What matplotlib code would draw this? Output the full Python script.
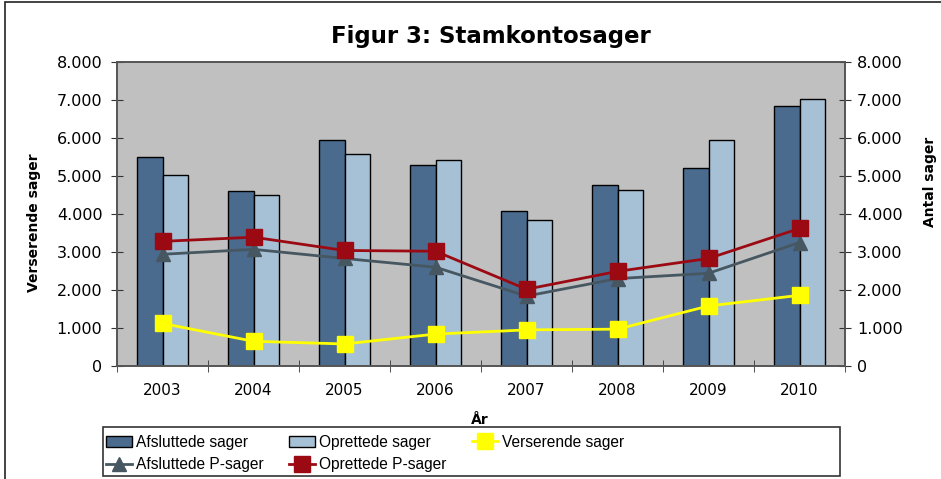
import numpy as np
import matplotlib
matplotlib.use("Agg")
import matplotlib.pyplot as plt
from matplotlib.ticker import FuncFormatter

# data
years = ["2003", "2004", "2005", "2006", "2007", "2008", "2009", "2010"]
afsluttede = [5500, 4600, 5940, 5290, 4090, 4770, 5220, 6830]
oprettede = [5020, 4500, 5590, 5430, 3850, 4640, 5940, 7030]
verserende = [1120, 650, 580, 840, 950, 970, 1580, 1860]
afsluttede_p = [2940, 3070, 2830, 2600, 1840, 2300, 2440, 3250]
oprettede_p = [3280, 3390, 3040, 3020, 2020, 2490, 2830, 3620]

c_dark = "#4a6b8e"
c_light = "#a6c0d5"
c_red = "#9b0a12"
c_gray = "#475761"
c_yel = "#ffff00"

plt.rcParams['font.family'] = ['DejaVu Sans']

fig = plt.figure(figsize=(9.41, 4.79), dpi=100)
ax = fig.add_axes([117/941, 1-366/479, 728/941, 304/479])
ax.set_facecolor("#c0c0c0")

x = np.arange(len(years))
w = 0.285
b1 = ax.bar(x - w/2, afsluttede, w, color=c_dark, edgecolor="black", linewidth=1.0, label="Afsluttede sager")
b2 = ax.bar(x + w/2, oprettede, w, color=c_light, edgecolor="black", linewidth=1.0, label="Oprettede sager")

l3, = ax.plot(x, verserende, color=c_yel, lw=2, marker="s", ms=12, mec=c_yel, label="Verserende sager")
l4, = ax.plot(x, afsluttede_p, color=c_gray, lw=2, marker="^", ms=10, mec=c_gray, label="Afsluttede P-sager")
l5, = ax.plot(x, oprettede_p, color=c_red, lw=2, marker="s", ms=12, mec=c_red, label="Oprettede P-sager")

ax.set_xlim(-0.5, len(years) - 0.5)
ax.set_ylim(0, 8000)
ax.set_yticks(np.arange(0, 8001, 1000))
fmt = FuncFormatter(lambda v, p: f"{int(v):,}".replace(",", "."))
ax.yaxis.set_major_formatter(fmt)
ax.set_xticks(x)
ax.set_xticklabels(years)
ax.set_xticks(np.arange(-0.5, len(years)), minor=True)
ax.tick_params(axis="x", which="major", length=0, labelsize=11, pad=12)
ax.tick_params(axis="x", which="minor", direction="inout", length=9, color="#333333")
ax.tick_params(axis="y", direction="inout", length=9, labelsize=11.5, color="#333333", pad=6)

ax2 = ax.twinx()
ax2.set_ylim(0, 8000)
ax2.set_yticks(np.arange(0, 8001, 1000))
ax2.yaxis.set_major_formatter(fmt)
ax2.tick_params(axis="y", direction="inout", length=9, labelsize=11.5, color="#333333", pad=4)

for a in (ax, ax2):
    for s in a.spines.values():
        s.set_color("#555555")
        s.set_linewidth(1.2)

ax.set_ylabel("Verserende sager", fontsize=10, fontweight="bold")
ax.yaxis.set_label_coords(-0.104, 0.47)
ax2.set_ylabel("Antal sager", fontsize=10, fontweight="bold")
ax2.yaxis.set_label_coords(1.107, 0.605)
ax.set_xlabel("År", fontsize=10, fontweight="bold")
ax.xaxis.set_label_coords(0.4986, -0.155)

fig.text(491/941, 1-37/479, "Figur 3: Stamkontosager", ha="center", va="center",
         fontsize=16.5, fontweight="bold")

handles = [b1, l4, b2, l5, l3]
leg = fig.legend(handles, [h.get_label() for h in handles], ncol=3,
                 loc="upper left", bbox_to_anchor=(104/941, 1-433/479),
                 prop={'family': ['Liberation Sans'], 'size': 11.2},
                 frameon=False, borderpad=0.1, labelspacing=0.48, handlelength=1.7,
                 handletextpad=0.27, borderaxespad=0, columnspacing=1.6)

# legend box
fig.patches.append(plt.Rectangle((103/941, 3/479), 737/941, 49/479, transform=fig.transFigure,
                                 fill=False, edgecolor="#333333", linewidth=1.2))

# outer chart border
fig.patches.append(plt.Rectangle((5/941, -0.05), 1.2, 1.05 - 2/479, transform=fig.transFigure,
                                 fill=False, edgecolor="#222222", linewidth=1.2))

fig.savefig("out.png", dpi=100)
